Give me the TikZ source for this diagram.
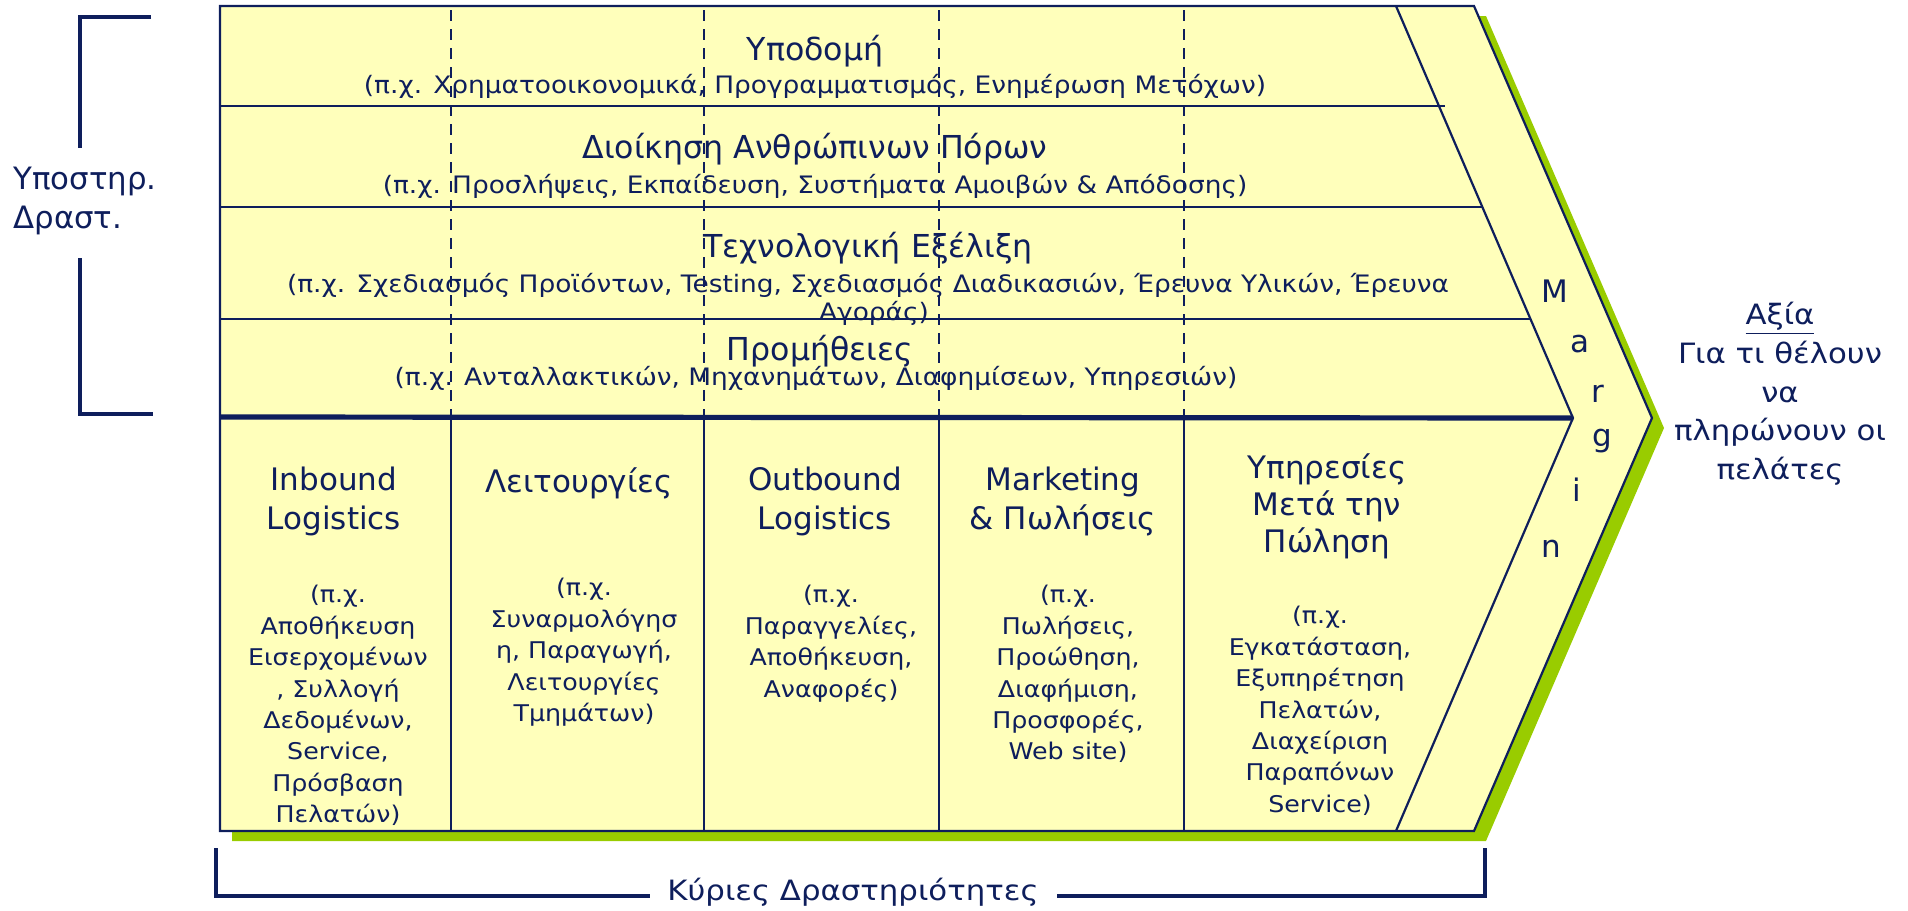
\documentclass[tikz,border=0pt]{standalone}
\usepackage{fontspec}
\setmainfont{DejaVu Sans}
\newfontfamily\widesans{DejaVu Sans}[FakeStretch=1.1]
\definecolor{navy}{RGB}{14,30,92}
\definecolor{pale}{RGB}{255,255,187}
\definecolor{leaf}{RGB}{153,204,0}
\tikzset{
  boxline/.style={draw=navy, line width=1.1pt},
  rowline/.style={navy, line width=1.3pt},
  cutline/.style={navy, line width=1.2pt, dash pattern=on 5.5pt off 4pt},
  headtxt/.style={text=navy, font=\fontsize{15.5}{19.5}\selectfont, align=center, inner sep=0pt},
  subtxt/.style={text=navy, font=\widesans\fontsize{12}{14}\selectfont, inner sep=0pt},
  coltxt/.style={text=navy, font=\widesans\fontsize{11.5}{15.7}\selectfont, align=center, inner sep=0pt},
  sidetxt/.style={text=navy, font=\widesans\fontsize{14}{19.3}\selectfont, align=center, inner sep=0pt},
  bracketline/.style={navy, line width=1.6pt},
  bigbracket/.style={navy, line width=2.3pt},
}
\begin{document}
\begin{tikzpicture}[x=0.5pt, y=-0.5pt]
  \useasboundingbox (0,0) rectangle (1908,911);
  % Coordinates
  \coordinate (tl) at (220,6);
  \coordinate (tr) at (1474,6);
  \coordinate (tip) at (1652,418);
  \coordinate (br) at (1474,831);
  \coordinate (bl) at (220,831);
  \coordinate (itop) at (1396,6);
  \coordinate (itip) at (1573,418);
  \coordinate (ibot) at (1396,831);

  % Drawing
  \fill[leaf] ([shift={(12,10)}]tl) -- ([shift={(12,10)}]tr) -- ([shift={(12,10)}]tip)
    -- ([shift={(12,10)}]br) -- ([shift={(12,10)}]bl) -- cycle;
  \filldraw[boxline, fill=pale] (tl) -- (tr) -- (tip) -- (br) -- (bl) -- cycle;
  \draw[boxline] (itop) -- (itip) -- (ibot);
  \draw[rowline] (220,106) -- (1445,106);
  \draw[rowline] (220,207) -- (1482,207);
  \draw[rowline] (220,319) -- (1530,319);
  \foreach \x in {451,704,939,1184}
    \draw[cutline] (\x,10) -- (\x,417);
  \foreach \x in {451,704,939,1184}
    \draw[boxline] (\x,417) -- (\x,831);
  \draw[navy, line width=2.6pt] (220,417) -- (itip);

  % Support activities
  \node[headtxt, anchor=base, font=\fontsize{15.8}{19.5}\selectfont] (infra) at (815,60) {Υποδομή};
  \node[subtxt, anchor=base] (infrasub) at (815,93) {(π.χ. Χρηματοοικονομικά, Προγραμματισμός, Ενημέρωση Μετόχων)};
  \node[headtxt, anchor=base, font=\fontsize{15.8}{19.5}\selectfont] (hrm) at (815,158) {Διοίκηση Ανθρώπινων Πόρων};
  \node[subtxt, anchor=base] (hrmsub) at (815,193) {(π.χ. Προσλήψεις, Εκπαίδευση, Συστήματα Αμοιβών \& Απόδοσης)};
  \node[headtxt, anchor=base, font=\fontsize{15.8}{19.5}\selectfont] (tech) at (868,257) {Τεχνολογική Εξέλιξη};
  \node[subtxt, anchor=base] (techsub) at (868,292) {(π.χ. Σχεδιασμός Προϊόντων, Testing, Σχεδιασμός Διαδικασιών, Έρευνα Υλικών, Έρευνα};
  \node[subtxt, anchor=base] (techsub2) at (874,320) {Αγοράς)};
  \node[headtxt, anchor=base, font=\fontsize{15.8}{19.5}\selectfont] (proc) at (820,360) {Προμήθειες};
  \node[subtxt, anchor=base] (procsub) at (816,385) {(π.χ. Ανταλλακτικών, Μηχανημάτων, Διαφημίσεων, Υπηρεσιών)};

  % Primary activities
  \node[headtxt, anchor=north] (inb) at (334,467) {Inbound\\Logistics};
  \node[coltxt, anchor=north] (inbx) at (338,585) {(π.χ.\\Αποθήκευση\\Εισερχομένων\\, Συλλογή\\Δεδομένων,\\Service,\\Πρόσβαση\\Πελατών)};
  \node[headtxt, anchor=north] (ops) at (579,467) {Λειτουργίες};
  \node[coltxt, anchor=north] (opsx) at (584,578) {(π.χ.\\Συναρμολόγησ\\η, Παραγωγή,\\Λειτουργίες\\Τμημάτων)};
  \node[headtxt, anchor=north] (outb) at (825,467) {Outbound\\Logistics};
  \node[coltxt, anchor=north] (outbx) at (831,585) {(π.χ.\\Παραγγελίες,\\Αποθήκευση,\\Αναφορές)};
  \node[headtxt, anchor=north] (mkt) at (1063,467) {Marketing\\\& Πωλήσεις};
  \node[coltxt, anchor=north] (mktx) at (1068,585) {(π.χ.\\Πωλήσεις,\\Προώθηση,\\Διαφήμιση,\\Προσφορές,\\Web site)};
  \node[headtxt, anchor=north, font=\fontsize{15.5}{18.5}\selectfont] (svc) at (1327,453) {Υπηρεσίες\\Μετά την\\Πώληση};
  \node[coltxt, anchor=north] (svcx) at (1320,606) {(π.χ.\\Εγκατάσταση,\\Εξυπηρέτηση\\Πελατών,\\Διαχείριση\\Παραπόνων\\Service)};

  % Margin
  \foreach \ch/\x/\y [count=\i] in {M/1555/302, a/1580/352, r/1598/402, g/1602/446, i/1577/501, n/1551/557}
    \node[headtxt, anchor=base] (mg\i) at (\x,\y) {\ch};

  % Side labels
  \node[sidetxt, anchor=north] (value) at (1780,302) {\underline{Αξία}\\Για τι θέλουν\\να\\πληρώνουν οι\\πελάτες};
  \node[sidetxt, anchor=north west, align=left, font=\fontsize{15.4}{19.5}\selectfont] (support) at (13,167) {Υποστηρ.\\Δραστ.};
  \node[sidetxt, anchor=base] (primary) at (853,900) {Κύριες Δραστηριότητες};

  % Brackets
  \coordinate (sa) at (151,17);
  \coordinate (sb) at (80,148);
  \coordinate (sc) at (80,258);
  \coordinate (sd) at (153,414);
  \draw[bracketline] (sa) -| (sb);
  \draw[bracketline] (sc) |- (sd);
  \coordinate (pa) at (216,848);
  \coordinate (pb) at (650,896);
  \coordinate (pc) at (1057,896);
  \coordinate (pd) at (1485,848);
  \draw[bigbracket] (pa) |- (pb);
  \draw[bigbracket] (pc) -| (pd);
\end{tikzpicture}
\end{document}
